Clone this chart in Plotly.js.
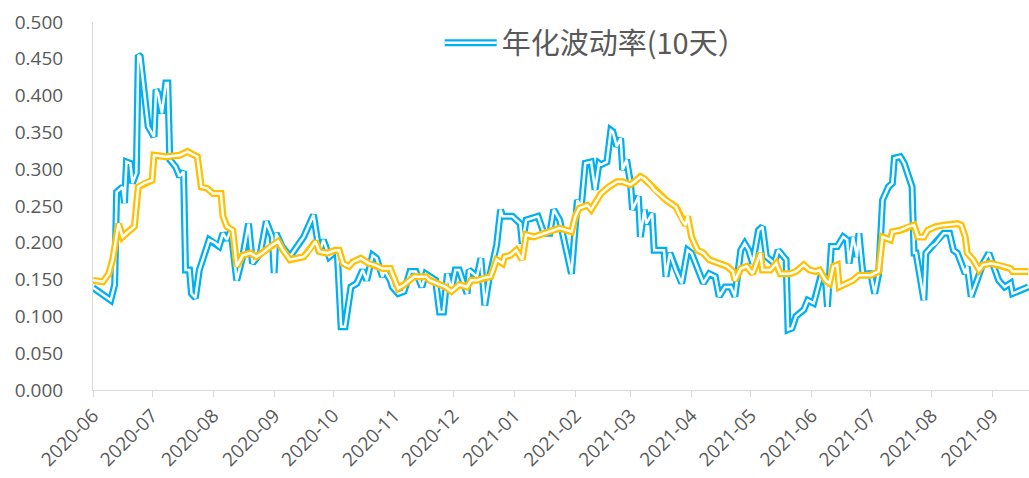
<!DOCTYPE html>
<html>
<head>
<meta charset="utf-8">
<script src="https://cdn.plot.ly/plotly-3.0.1.min.js"></script>
<style>
  html, body { margin: 0; padding: 0; background: #ffffff; }
  #chart { width: 1029px; height: 478px; }
</style>
</head>
<body>
<div id="chart"></div>
<script>
// Annualised volatility (10-day) – blue series
var volDates = [
  "2020-06-01","2020-06-10","2020-06-12","2020-06-13","2020-06-16","2020-06-17","2020-06-18","2020-06-20","2020-06-21","2020-06-23",
  "2020-06-24","2020-06-25","2020-06-29","2020-07-02","2020-07-03","2020-07-04","2020-07-06","2020-07-08","2020-07-09","2020-07-10",
  "2020-07-13","2020-07-15","2020-07-17","2020-07-18","2020-07-20","2020-07-21","2020-07-23","2020-07-25","2020-07-30","2020-08-02",
  "2020-08-04","2020-08-06","2020-08-08","2020-08-10","2020-08-13","2020-08-16","2020-08-19","2020-08-21","2020-08-25","2020-08-28",
  "2020-08-31","2020-09-01","2020-09-02","2020-09-05","2020-09-09","2020-09-16","2020-09-21","2020-09-24","2020-09-26","2020-09-29",
  "2020-10-03","2020-10-05","2020-10-07","2020-10-10","2020-10-13","2020-10-16","2020-10-18","2020-10-21","2020-10-23","2020-10-26",
  "2020-10-27","2020-10-30","2020-10-31","2020-11-03","2020-11-06","2020-11-09","2020-11-12","2020-11-15","2020-11-17","2020-11-22",
  "2020-11-24","2020-11-26","2020-11-28","2020-11-30","2020-12-02","2020-12-04","2020-12-08","2020-12-09","2020-12-13","2020-12-15",
  "2020-12-17","2020-12-19","2020-12-21","2020-12-23","2020-12-25","2020-12-26","2020-12-31","2021-01-04","2021-01-05","2021-01-07",
  "2021-01-13","2021-01-16","2021-01-19","2021-01-21","2021-01-24","2021-01-30","2021-02-02","2021-02-04","2021-02-06","2021-02-09",
  "2021-02-11","2021-02-13","2021-02-14","2021-02-17","2021-02-19","2021-02-20","2021-02-22","2021-02-24","2021-02-25","2021-02-27",
  "2021-03-01","2021-03-02","2021-03-05","2021-03-06","2021-03-08","2021-03-09","2021-03-12","2021-03-13","2021-03-18","2021-03-19",
  "2021-03-21","2021-03-24","2021-03-27","2021-03-30","2021-04-01","2021-04-07","2021-04-10","2021-04-13","2021-04-15","2021-04-18",
  "2021-04-21","2021-04-23","2021-04-26","2021-04-28","2021-04-30","2021-05-02","2021-05-05","2021-05-07","2021-05-09","2021-05-13",
  "2021-05-15","2021-05-19","2021-05-20","2021-05-22","2021-05-24","2021-05-28","2021-05-30","2021-06-02","2021-06-03","2021-06-06",
  "2021-06-08","2021-06-09","2021-06-11","2021-06-14","2021-06-17","2021-06-19","2021-06-20","2021-06-22","2021-06-24","2021-06-25",
  "2021-06-27","2021-07-01","2021-07-03","2021-07-05","2021-07-07","2021-07-10","2021-07-12","2021-07-13","2021-07-16","2021-07-18",
  "2021-07-22","2021-07-23","2021-07-24","2021-07-28","2021-07-29","2021-08-01","2021-08-03","2021-08-07","2021-08-10","2021-08-12",
  "2021-08-14","2021-08-18","2021-08-19","2021-08-21","2021-08-24","2021-08-27","2021-08-30","2021-09-01","2021-09-04","2021-09-07",
  "2021-09-10","2021-09-11","2021-09-15","2021-09-19"
];
var volValues = [
  0.139,0.122,0.143,0.269,0.276,0.254,0.310,0.308,0.281,0.295,
  0.455,0.453,0.358,0.344,0.408,0.403,0.376,0.417,0.417,0.313,
  0.303,0.290,0.297,0.163,0.163,0.131,0.125,0.163,0.204,0.200,
  0.195,0.213,0.204,0.217,0.149,0.181,0.226,0.172,0.186,0.229,
  0.208,0.159,0.213,0.195,0.181,0.208,0.238,0.186,0.204,0.181,
  0.190,0.086,0.086,0.140,0.145,0.163,0.149,0.183,0.179,0.154,
  0.163,0.149,0.140,0.131,0.134,0.161,0.161,0.140,0.158,0.149,
  0.106,0.106,0.158,0.136,0.163,0.163,0.131,0.163,0.154,0.179,
  0.115,0.149,0.172,0.197,0.245,0.236,0.236,0.226,0.199,0.231,
  0.236,0.213,0.213,0.245,0.231,0.158,0.258,0.249,0.308,0.310,
  0.272,0.308,0.306,0.310,0.353,0.351,0.331,0.342,0.299,0.313,
  0.281,0.245,0.263,0.208,0.245,0.226,0.240,0.190,0.190,0.154,
  0.186,0.163,0.145,0.190,0.186,0.145,0.158,0.154,0.127,0.140,
  0.140,0.127,0.190,0.199,0.190,0.172,0.217,0.222,0.181,0.172,
  0.190,0.177,0.082,0.084,0.100,0.109,0.122,0.118,0.127,0.158,
  0.149,0.113,0.195,0.195,0.208,0.204,0.172,0.208,0.181,0.213,
  0.158,0.158,0.131,0.158,0.258,0.276,0.281,0.315,0.317,0.308,
  0.276,0.186,0.186,0.122,0.186,0.195,0.199,0.213,0.213,0.190,
  0.186,0.158,0.168,0.127,0.149,0.172,0.186,0.172,0.149,0.140,
  0.145,0.131,0.136,0.140
];

// Smoothed series – gold line
var avgDates = [
  "2020-06-01","2020-06-06","2020-06-09","2020-06-11","2020-06-14","2020-06-16","2020-06-18","2020-06-22","2020-06-24","2020-06-27",
  "2020-07-01","2020-07-02","2020-07-08","2020-07-15","2020-07-19","2020-07-21","2020-07-24","2020-07-26","2020-07-29","2020-08-01",
  "2020-08-05","2020-08-06","2020-08-08","2020-08-11","2020-08-13","2020-08-16","2020-08-20","2020-08-23","2020-08-26","2020-08-30",
  "2020-09-03","2020-09-05","2020-09-09","2020-09-16","2020-09-19","2020-09-22","2020-09-24","2020-09-28","2020-10-02","2020-10-04",
  "2020-10-06","2020-10-09","2020-10-11","2020-10-15","2020-10-19","2020-10-22","2020-10-26","2020-10-30","2020-11-03","2020-11-06",
  "2020-11-11","2020-11-14","2020-11-17","2020-11-19","2020-11-23","2020-11-27","2020-11-30","2020-12-04","2020-12-08","2020-12-10",
  "2020-12-13","2020-12-16","2020-12-20","2020-12-23","2020-12-26","2020-12-27","2020-12-30","2021-01-02","2021-01-05","2021-01-07",
  "2021-01-11","2021-01-16","2021-01-19","2021-01-24","2021-01-30","2021-02-01","2021-02-03","2021-02-07","2021-02-09","2021-02-12",
  "2021-02-14","2021-02-18","2021-02-22","2021-02-25","2021-03-01","2021-03-03","2021-03-06","2021-03-08","2021-03-11","2021-03-13",
  "2021-03-16","2021-03-19","2021-03-24","2021-03-27","2021-03-29","2021-03-30","2021-04-01","2021-04-04","2021-04-07","2021-04-10",
  "2021-04-15","2021-04-19","2021-04-22","2021-04-23","2021-04-26","2021-04-29","2021-05-02","2021-05-06","2021-05-07","2021-05-11",
  "2021-05-14","2021-05-16","2021-05-21","2021-05-24","2021-05-28","2021-05-31","2021-06-03","2021-06-05","2021-06-08","2021-06-10",
  "2021-06-12","2021-06-14","2021-06-15","2021-06-19","2021-06-22","2021-06-25","2021-07-01","2021-07-05","2021-07-07","2021-07-11",
  "2021-07-12","2021-07-16","2021-07-20","2021-07-23","2021-07-25","2021-07-28","2021-07-30","2021-08-03","2021-08-07","2021-08-14",
  "2021-08-16","2021-08-18","2021-08-19","2021-08-22","2021-08-25","2021-08-27","2021-08-31","2021-09-04","2021-09-07","2021-09-10",
  "2021-09-11","2021-09-19"
];
var avgValues = [
  0.149,0.147,0.158,0.177,0.226,0.208,0.213,0.222,0.276,0.281,
  0.285,0.319,0.317,0.319,0.324,0.321,0.317,0.276,0.274,0.267,
  0.267,0.236,0.222,0.217,0.168,0.183,0.186,0.181,0.186,0.195,
  0.202,0.192,0.177,0.181,0.190,0.202,0.188,0.186,0.190,0.190,
  0.172,0.168,0.174,0.179,0.172,0.170,0.165,0.165,0.138,0.143,
  0.154,0.154,0.154,0.149,0.145,0.140,0.134,0.143,0.140,0.149,
  0.149,0.152,0.154,0.177,0.172,0.181,0.183,0.190,0.177,0.211,
  0.208,0.213,0.215,0.220,0.215,0.236,0.247,0.251,0.245,0.258,
  0.267,0.276,0.283,0.283,0.279,0.283,0.290,0.287,0.279,0.272,
  0.265,0.258,0.249,0.231,0.224,0.236,0.208,0.190,0.186,0.177,
  0.172,0.168,0.161,0.149,0.165,0.168,0.158,0.186,0.163,0.163,
  0.172,0.158,0.158,0.161,0.170,0.163,0.161,0.163,0.149,0.145,
  0.168,0.170,0.140,0.145,0.149,0.156,0.156,0.161,0.208,0.204,
  0.215,0.217,0.222,0.224,0.208,0.208,0.217,0.222,0.224,0.226,
  0.224,0.208,0.186,0.177,0.163,0.170,0.172,0.170,0.168,0.165,
  0.161,0.161
];

var yTickVals = [0,0.05,0.1,0.15,0.2,0.25,0.3,0.35,0.4,0.45,0.5];
var seriesName = "年化波动率(10天）";

var BLUE = "#00B0F0", GOLD = "#FFC000";
var OUTER = 7, INNER = 2.5;

var traces = [
  {x: volDates, y: volValues, type: "scatter", mode: "lines", name: seriesName,
   line: {color: BLUE, width: OUTER}, showlegend: true, legend: "legend", hoverinfo: "skip"},
  {x: volDates, y: volValues, type: "scatter", mode: "lines", name: " ",
   line: {color: "#ffffff", width: INNER}, showlegend: true, legend: "legend2", hoverinfo: "skip"},
  {x: avgDates, y: avgValues, type: "scatter", mode: "lines", name: "avg",
   line: {color: GOLD, width: OUTER}, showlegend: false, hoverinfo: "skip"},
  {x: avgDates, y: avgValues, type: "scatter", mode: "lines", name: "avg2",
   line: {color: "#ffffff", width: INNER}, showlegend: false, hoverinfo: "skip"}
];

var legendCommon = {
  x: 0.3704, y: 0.943, xanchor: "left", yanchor: "middle",
  orientation: "h", bgcolor: "rgba(0,0,0,0)", borderwidth: 0,
  itemwidth: 52,
  font: {family: "Noto Sans CJK SC, Open Sans, sans-serif", size: 29, color: "#595959"}
};

var layout = {
  width: 1029, height: 478,
  margin: {l: 93, r: 0, t: 22, b: 88, pad: 0},
  paper_bgcolor: "#ffffff", plot_bgcolor: "#ffffff",
  showlegend: true,
  legend: legendCommon,
  legend2: Object.assign({}, legendCommon),
  xaxis: {
    type: "date",
    range: ["2020-06-01", "2021-09-19 09:00"],
    tick0: "2020-06-01", dtick: "M1", tickformat: "%Y-%m",
    tickangle: -45,
    ticks: "outside", ticklen: 6, tickcolor: "#d9d9d9", tickwidth: 1,
    showline: true, linecolor: "#d9d9d9", linewidth: 1,
    showgrid: false, zeroline: false,
    tickfont: {family: "Open Sans, sans-serif", size: 19, color: "#595959"}
  },
  yaxis: {
    range: [0, 0.5],
    tickvals: yTickVals, tickformat: ".3f",
    ticks: "", ticklabelstandoff: 25,
    showline: true, linecolor: "#d9d9d9", linewidth: 1,
    showgrid: false, zeroline: false,
    tickfont: {family: "Open Sans, sans-serif", size: 19, color: "#595959"}
  }
};

Plotly.newPlot("chart", traces, layout, {staticPlot: true, displayModeBar: false});
</script>
</body>
</html>
